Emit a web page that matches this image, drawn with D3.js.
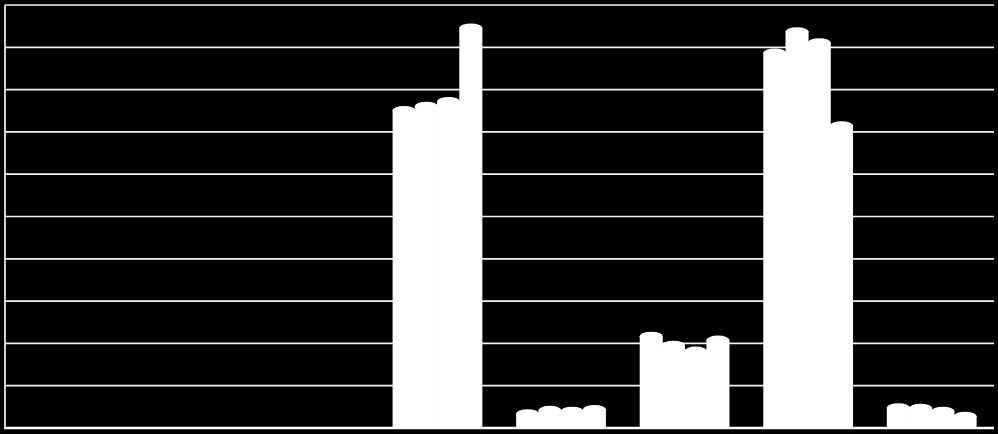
<!DOCTYPE html>
<html>
<head>
<meta charset="utf-8">
<script src="https://cdn.jsdelivr.net/npm/d3@7"></script>
<style>
  html, body { margin: 0; padding: 0; background: #000; }
  svg { display: block; }
</style>
</head>
<body>
<svg class="chart"></svg>
<script>
var width = 998,
	height = 434;

// categories and series (no labels visible in the picture)
var categories = ["1", "2", "3", "4", "5", "6", "7", "8"];
var seriesNames = ["S1", "S2", "S3", "S4"];

var s1 = [0, 0, 0, 75.2, 3.5, 21.8, 88.8, 4.9];
var s2 = [0, 0, 0, 76.2, 4.3, 19.7, 93.8, 4.8];
var s3 = [0, 0, 0, 77.3, 4.1, 18.3, 91.2, 4.1];
var s4 = [0, 0, 0, 94.7, 4.5, 20.9, 71.6, 2.9];

var yTicks = [0, 10, 20, 30, 40, 50, 60, 70, 80, 90, 100];

var seriesValues = [s1, s2, s3, s4];

var plotLeft = 5, plotRight = 993.5, plotTop = 5, plotBottom = 428,
	capRy = 4.5;

var x0 = d3.scaleBand()
	.domain(categories)
	.range([plotLeft, plotRight])
	.paddingInner(0.28)
	.paddingOuter(0.14);

var x1 = d3.scaleBand()
	.domain(seriesNames)
	.range([0, x0.bandwidth()]);

var y = d3.scaleLinear()
	.domain([0, 100])
	.range([plotBottom, plotTop]);

var chart = d3.select(".chart")
	.attr("width", width)
	.attr("height", height);

chart.append("rect")
	.attr("width", width)
	.attr("height", height)
	.attr("fill", "#000");

// horizontal grid
chart.append("g")
	.attr("class", "grid")
	.selectAll("line")
	.data(yTicks.slice(1))
  .enter().append("line")
	.attr("x1", plotLeft)
	.attr("x2", 994)
	.attr("y1", function(d) { return y(d); })
	.attr("y2", function(d) { return y(d); })
	.attr("stroke", "#f2f2f2")
	.attr("stroke-width", 1.7);

var rows = [];
categories.forEach(function(c, i) {
	seriesNames.forEach(function(s, j) {
		rows.push({ cat: c, series: s, value: seriesValues[j][i] });
	});
});

var bar = chart.append("g")
	.attr("class", "bars")
	.selectAll("g")
	.data(rows)
  .enter().append("g")
	.attr("transform", function(d) { return "translate(" + (x0(d.cat) + x1(d.series)) + ",0)"; });

// body overlaps its neighbour slightly so the group reads as one white block
bar.append("rect")
	.attr("x", -0.4)
	.attr("y", function(d) { return y(d.value) - 0.5 + capRy * 0.1; })
	.attr("width", x1.bandwidth() + 0.8)
	.attr("height", function(d) { return y(0) - y(d.value) + 0.5; })
	.attr("fill", "#fff");

// cylinder caps
bar.filter(function(d) { return d.value > 0; })
  .append("ellipse")
	.attr("cx", x1.bandwidth() / 2)
	.attr("cy", function(d) { return y(d.value) + 0.5; })
	.attr("rx", x1.bandwidth() / 2 + 0.4)
	.attr("ry", capRy)
	.attr("fill", "#fff");

// axes lines
chart.append("line")
	.attr("x1", plotLeft).attr("x2", plotLeft)
	.attr("y1", plotTop).attr("y2", plotBottom)
	.attr("stroke", "#f2f2f2")
	.attr("stroke-width", 1.7);

chart.append("line")
	.attr("x1", plotLeft - 1).attr("x2", 994)
	.attr("y1", plotBottom).attr("y2", plotBottom)
	.attr("stroke", "#fff")
	.attr("stroke-width", 2.6);
</script>
</body>
</html>
